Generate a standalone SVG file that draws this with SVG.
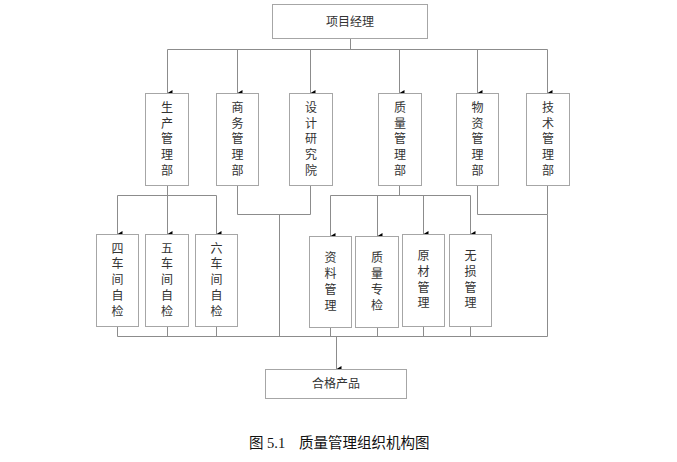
<svg xmlns="http://www.w3.org/2000/svg" width="677" height="462" viewBox="0 0 677 462">
<style>
.box{fill:#fff;stroke:#a6a6a6;stroke-width:1}
.ln{fill:none;stroke:#8c8c8c;stroke-width:1}
.t{font-family:"Liberation Serif","Noto Sans CJK SC",serif;font-size:12px;fill:#333;text-anchor:middle;dominant-baseline:central}
.cap{font-family:"Liberation Serif","Noto Sans CJK SC",serif;font-size:14.5px;fill:#111;dominant-baseline:central}
</style>
<defs>
<marker id="arr" viewBox="0 0 6 5" refX="3" refY="5" markerWidth="6" markerHeight="5" markerUnits="userSpaceOnUse" orient="auto-start-reverse">
<path d="M0,0 L6,0 L3,5 Z" fill="#000"/>
</marker>
</defs>
<rect width="677" height="462" fill="#fff"/>
<g id="connectors">
<path class="ln" d="M350.5,38.5 V49.5 M167.5,49.5 H547.5"/>
<path class="ln" d="M167.5,49.5 V93" marker-end="url(#arr)"/>
<path class="ln" d="M237.5,49.5 V93" marker-end="url(#arr)"/>
<path class="ln" d="M310.5,49.5 V93" marker-end="url(#arr)"/>
<path class="ln" d="M399.5,49.5 V93" marker-end="url(#arr)"/>
<path class="ln" d="M477.5,49.5 V93" marker-end="url(#arr)"/>
<path class="ln" d="M547.5,49.5 V93" marker-end="url(#arr)"/>
<path class="ln" d="M167.5,185 V195.5 M117.5,195.5 H216.5"/>
<path class="ln" d="M117.5,195.5 V234" marker-end="url(#arr)"/>
<path class="ln" d="M167.5,195.5 V234" marker-end="url(#arr)"/>
<path class="ln" d="M216.5,195.5 V234" marker-end="url(#arr)"/>
<path class="ln" d="M399.5,185 V195.5 M330.5,195.5 H470.5"/>
<path class="ln" d="M330.5,195.5 V236" marker-end="url(#arr)"/>
<path class="ln" d="M377.5,195.5 V236" marker-end="url(#arr)"/>
<path class="ln" d="M423.5,195.5 V234" marker-end="url(#arr)"/>
<path class="ln" d="M470.5,195.5 V234" marker-end="url(#arr)"/>
<path class="ln" d="M237.5,185 V214.5 H310.5 V185 M279.5,214.5 V336.5"/>
<path class="ln" d="M477.5,185 V214.5 H547.5 V185 M547.5,214.5 V336.5"/>
<path class="ln" d="M117.5,336.5 H547.5"/>
<path class="ln" d="M117.5,326 V336.5 M167.5,326 V336.5 M216.5,326 V336.5 M330.5,327 V336.5 M377.5,327 V336.5 M423.5,326 V336.5 M470.5,326 V336.5"/>
<path class="ln" d="M336.5,336.5 V369" marker-end="url(#arr)"/>
</g>
<g id="n-top"><rect class="box" x="272.5" y="4.5" width="155" height="34"/><text class="t" x="350" y="21.5">项目经理</text></g>
<g id="n-sc"><rect class="box" x="145.5" y="93.5" width="43" height="92"/><text class="t"><tspan x="167" y="108">生</tspan><tspan x="167" y="123.7">产</tspan><tspan x="167" y="139.4">管</tspan><tspan x="167" y="155.1">理</tspan><tspan x="167" y="170.8">部</tspan></text></g>
<g id="n-sw"><rect class="box" x="216.5" y="93.5" width="42" height="92"/><text class="t"><tspan x="237.5" y="108">商</tspan><tspan x="237.5" y="123.7">务</tspan><tspan x="237.5" y="139.4">管</tspan><tspan x="237.5" y="155.1">理</tspan><tspan x="237.5" y="170.8">部</tspan></text></g>
<g id="n-sj"><rect class="box" x="289.5" y="93.5" width="43" height="92"/><text class="t"><tspan x="311" y="108">设</tspan><tspan x="311" y="123.7">计</tspan><tspan x="311" y="139.4">研</tspan><tspan x="311" y="155.1">究</tspan><tspan x="311" y="170.8">院</tspan></text></g>
<g id="n-zl"><rect class="box" x="378.5" y="93.5" width="43" height="92"/><text class="t"><tspan x="400" y="108">质</tspan><tspan x="400" y="123.7">量</tspan><tspan x="400" y="139.4">管</tspan><tspan x="400" y="155.1">理</tspan><tspan x="400" y="170.8">部</tspan></text></g>
<g id="n-wz"><rect class="box" x="456.5" y="93.5" width="42" height="92"/><text class="t"><tspan x="477.5" y="108">物</tspan><tspan x="477.5" y="123.7">资</tspan><tspan x="477.5" y="139.4">管</tspan><tspan x="477.5" y="155.1">理</tspan><tspan x="477.5" y="170.8">部</tspan></text></g>
<g id="n-js"><rect class="box" x="526.5" y="93.5" width="43" height="92"/><text class="t"><tspan x="548" y="108">技</tspan><tspan x="548" y="123.7">术</tspan><tspan x="548" y="139.4">管</tspan><tspan x="548" y="155.1">理</tspan><tspan x="548" y="170.8">部</tspan></text></g>
<g id="n-c4"><rect class="box" x="96.5" y="234.5" width="42" height="92"/><text class="t"><tspan x="117.5" y="248.5">四</tspan><tspan x="117.5" y="264.3">车</tspan><tspan x="117.5" y="280.1">间</tspan><tspan x="117.5" y="295.9">自</tspan><tspan x="117.5" y="311.7">检</tspan></text></g>
<g id="n-c5"><rect class="box" x="145.5" y="234.5" width="43" height="92"/><text class="t"><tspan x="167" y="248.5">五</tspan><tspan x="167" y="264.3">车</tspan><tspan x="167" y="280.1">间</tspan><tspan x="167" y="295.9">自</tspan><tspan x="167" y="311.7">检</tspan></text></g>
<g id="n-c6"><rect class="box" x="195.5" y="234.5" width="42" height="92"/><text class="t"><tspan x="216.5" y="248.5">六</tspan><tspan x="216.5" y="264.3">车</tspan><tspan x="216.5" y="280.1">间</tspan><tspan x="216.5" y="295.9">自</tspan><tspan x="216.5" y="311.7">检</tspan></text></g>
<g id="n-zlgl"><rect class="box" x="309.5" y="236.5" width="42" height="91"/><text class="t"><tspan x="330.5" y="258">资</tspan><tspan x="330.5" y="274">料</tspan><tspan x="330.5" y="290">管</tspan><tspan x="330.5" y="305.5">理</tspan></text></g>
<g id="n-zlzj"><rect class="box" x="355.5" y="236.5" width="43" height="91"/><text class="t"><tspan x="377" y="258">质</tspan><tspan x="377" y="274">量</tspan><tspan x="377" y="290">专</tspan><tspan x="377" y="305.5">检</tspan></text></g>
<g id="n-yc"><rect class="box" x="402.5" y="234.5" width="42" height="92"/><text class="t"><tspan x="423.5" y="256">原</tspan><tspan x="423.5" y="271.8">材</tspan><tspan x="423.5" y="287.6">管</tspan><tspan x="423.5" y="303.4">理</tspan></text></g>
<g id="n-ws"><rect class="box" x="449.5" y="234.5" width="42" height="92"/><text class="t"><tspan x="470.5" y="256">无</tspan><tspan x="470.5" y="271.8">损</tspan><tspan x="470.5" y="287.6">管</tspan><tspan x="470.5" y="303.4">理</tspan></text></g>
<g id="n-hg"><rect class="box" x="265.5" y="369.5" width="141" height="29"/><text class="t" x="336" y="384">合格产品</text></g>
<text class="cap" x="249" y="442.5">图 5.1<tspan x="299">质量管理组织机构图</tspan></text>
</svg>
